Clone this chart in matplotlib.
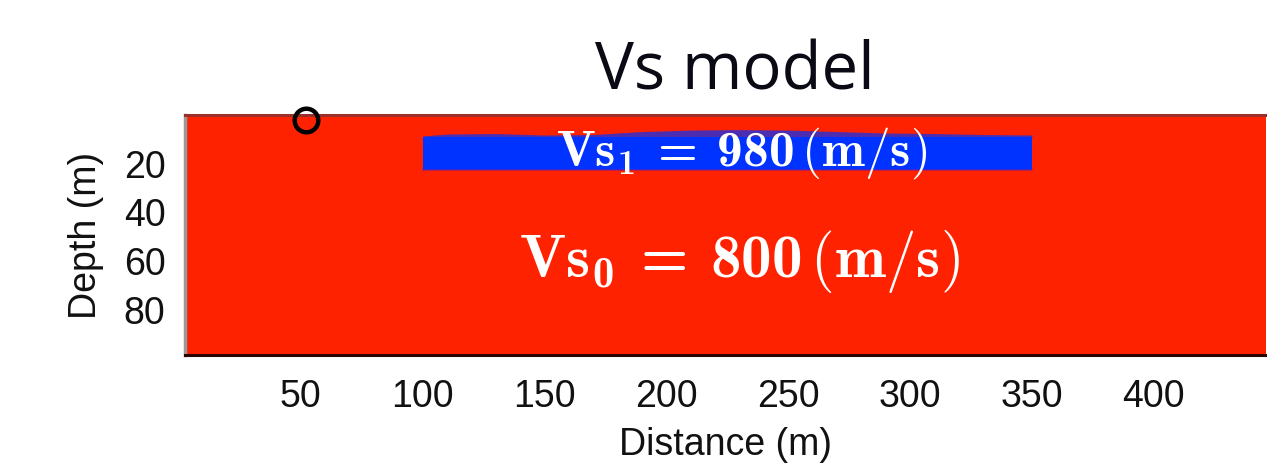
import matplotlib
matplotlib.use("Agg")
import matplotlib.pyplot as plt
import numpy as np

# Model values
vs0 = 800          # background shear-wave velocity (m/s)
vs1 = 980          # shallow layer velocity (m/s)
layer_x = [100, 110, 130, 150, 170, 190, 210, 230, 250, 270, 290, 310, 330, 350]
layer_top = [8.6, 7.8, 7.6, 8.2, 8.0, 6.8, 6.2, 6.0, 6.2, 6.8, 7.4, 7.6, 8.0, 8.2]
layer_core_top = 9.0
layer_bottom = 22.5
source_x, source_z = 52, 2
x_ticks = [50, 100, 150, 200, 250, 300, 350, 400]
y_ticks = [20, 40, 60, 80]
x_range = (2.5, 446.0)
z_range = (98.5, 0.0)

RED = "#ff2200"
BLUE = "#0033ff"

# Computer Modern bold for the math labels (digits included)
plt.rcParams["mathtext.fontset"] = "custom"
plt.rcParams["mathtext.rm"] = "cmr10"
plt.rcParams["mathtext.bf"] = "cmb10"
plt.rcParams["mathtext.it"] = "cmmi10"


def vs_label(idx, value):
    return (r"$\mathbf{Vs_%d}\:\mathbf{=}\:\mathbf{%d}\,(\mathbf{m}/\mathbf{s})$"
            % (idx, value))


W, H = 1267, 467
fig = plt.figure(figsize=(W / 100, H / 100), dpi=100)
left_px, right_px, top_px, bot_px = 185, 1266, 115, 355
ax = fig.add_axes([left_px / W, (H - bot_px) / H,
                   (right_px - left_px) / W, (bot_px - top_px) / H])

ax.set_xlim(*x_range)
ax.set_ylim(*z_range)

# half-space
ax.fill_between([x_range[0], x_range[1]], z_range[0], z_range[1],
                color=RED, lw=0, zorder=0)

# layer: soft wavy upper boundary over a solid core
lx = np.array(layer_x, dtype=float)
lt = np.array(layer_top, dtype=float)
ax.fill_between(lx, lt, layer_core_top, color=BLUE, alpha=0.7, lw=0, zorder=1)
ax.fill_between([lx[0], lx[-1]], layer_core_top, layer_bottom,
                color=BLUE, lw=0, zorder=2)
ax.plot([lx[0], lx[-1]], [layer_bottom, layer_bottom], color="#7a1a9a",
        lw=1.2, alpha=0.6, zorder=2)

ax.text(231, 15.5, vs_label(1, vs1), color="white",
        fontsize=37, ha="center", va="center", zorder=3)
ax.text(230, 60, vs_label(0, vs0), color="white",
        fontsize=44, ha="center", va="center", zorder=3)

ax.plot([source_x], [source_z], marker="o", ms=17, mfc="none",
        mec="black", mew=3.2, clip_on=False, zorder=5)

ax.set_xticks(x_ticks)
ax.set_yticks(y_ticks)
ax.tick_params(length=0, labelsize=27, colors="#111111")
ax.tick_params(axis="x", pad=17)
ax.tick_params(axis="y", pad=14)
for lab in ax.get_xticklabels() + ax.get_yticklabels():
    lab.set_family("Liberation Sans")

ax.set_xlabel("Distance (m)", fontsize=27, family="Liberation Sans",
              labelpad=9, color="#111111")
ax.set_ylabel("Depth (m)", fontsize=27, family="Liberation Sans",
              labelpad=14, color="#111111")

ax.spines["right"].set_visible(False)
ax.spines["top"].set_color("#9b2f2a")
ax.spines["top"].set_linewidth(2.2)
ax.spines["bottom"].set_color("#2a0500")
ax.spines["bottom"].set_linewidth(2.2)
ax.spines["left"].set_color("#9a9a9a")
ax.spines["left"].set_linewidth(2.5)

fig.text(735 / W, 1 - 73 / H, "Vs model", family="Open Sans",
         fontsize=47, ha="center", va="center", color="#0a0a14")

fig.savefig("out.png", dpi=100)
